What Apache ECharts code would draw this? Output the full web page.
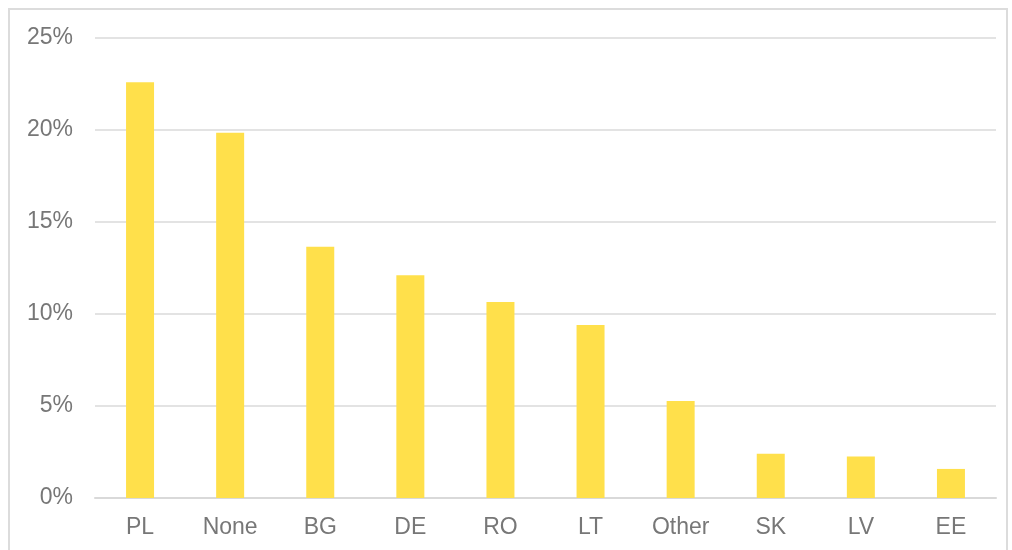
<!DOCTYPE html>
<html>
<head>
<meta charset="utf-8">
<script src="https://cdn.jsdelivr.net/npm/echarts@6/dist/echarts.min.js"></script>
<style>
  html, body { margin: 0; padding: 0; background: #fff; }
  #main { width: 1012px; height: 550px; }
</style>
</head>
<body>
<div id="main"></div>
<script>
// 数据
var categories = ['PL', 'None', 'BG', 'DE', 'RO', 'LT', 'Other', 'SK', 'LV', 'EE']
var shares = [22.6, 19.85, 13.65, 12.1, 10.65, 9.4, 5.27, 2.4, 2.25, 1.58]

var myChart = echarts.init(document.getElementById('main'))

var option = {
  animation: false,
  textStyle: { fontFamily: 'Liberation Sans, Arial, sans-serif' },
  graphic: [
    {
      type: 'rect',
      shape: { x: 9, y: 9, width: 998, height: 560 },
      style: { fill: 'none', stroke: '#dcdcdc', lineWidth: 2 },
      silent: true
    }
  ],
  grid: { left: 95, right: 16, top: 38, bottom: 52 },
  xAxis: {
    type: 'category',
    data: categories,
    axisTick: { show: false },
    axisLine: { lineStyle: { color: '#d9d9d9', width: 2 } },
    axisLabel: { color: '#777777', fontSize: 23, margin: 18 }
  },
  yAxis: {
    type: 'value',
    min: 0,
    max: 25,
    interval: 5,
    axisLine: { show: false },
    axisTick: { show: false },
    splitLine: { lineStyle: { color: '#e3e3e3', width: 2 } },
    axisLabel: {
      color: '#777777',
      fontSize: 23,
      margin: 22,
      formatter: '{value}%'
    }
  },
  series: [
    {
      type: 'bar',
      data: shares,
      barWidth: 28,
      itemStyle: { color: '#ffe04b' }
    }
  ]
}

myChart.setOption(option)
</script>
</body>
</html>
